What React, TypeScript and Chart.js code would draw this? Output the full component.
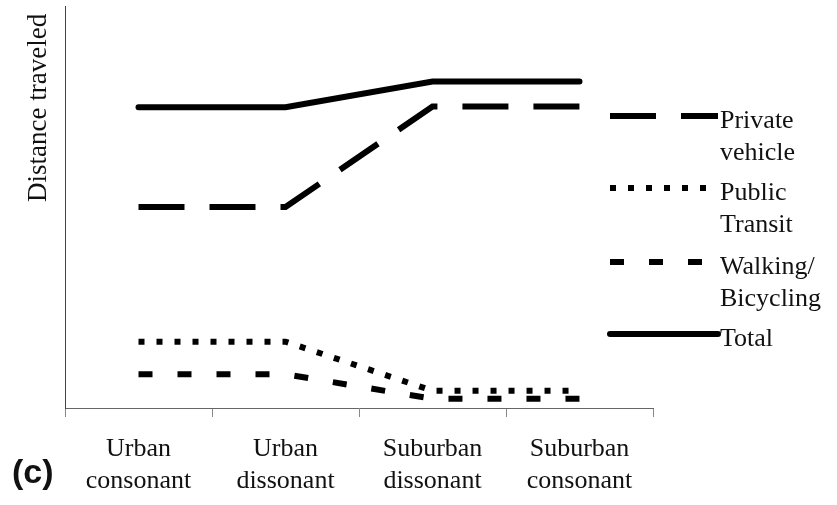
import React, { useEffect, useRef } from 'react';
import { Chart, registerables } from 'chart.js';

Chart.register(...registerables);

// ---- data ----
const categories: string[][] = [
  ['Urban', 'consonant'],
  ['Urban', 'dissonant'],
  ['Suburban', 'dissonant'],
  ['Suburban', 'consonant'],
];
const privateVehicle = [50, 50, 75, 75];
const publicTransit = [16.5, 16.5, 4.3, 4.3];
const walkingBicycling = [8.4, 8.4, 2.3, 2.3];
const total = [74.8, 74.8, 81.2, 81.2];
const seriesLabels: string[][] = [
  ['Private', 'vehicle'],
  ['Public', 'Transit'],
  ['Walking/', 'Bicycling'],
  ['Total'],
];
const yAxisTitle = 'Distance traveled';
const panelLabel = '(c)';

const SERIF = "'Liberation Serif', 'Times New Roman', serif";
const TEXT = '#111';

const overlayPlugin = {
  id: 'overlay',
  afterDraw(chart: any) {
    const ctx = chart.ctx as CanvasRenderingContext2D;
    const area = chart.chartArea;
    ctx.save();
    // y axis title (rotated, aligned to top)
    ctx.fillStyle = TEXT;
    ctx.font = `27px ${SERIF}`;
    ctx.textAlign = 'left';
    ctx.textBaseline = 'alphabetic';
    ctx.translate(area.left - 19, 202);
    ctx.rotate(-Math.PI / 2);
    ctx.fillText(yAxisTitle, 0, 0);
    ctx.restore();

    // custom legend
    const rowY = [116, 188, 262, 334];
    const x0 = area.right - 43;
    const x1 = area.right + 65;
    chart.data.datasets.forEach((ds: any, i: number) => {
      const y = rowY[i];
      ctx.save();
      ctx.strokeStyle = ds.borderColor;
      ctx.lineWidth = ds.borderWidth;
      ctx.lineCap = ds.borderCapStyle || 'butt';
      ctx.setLineDash(ds.borderDash || []);
      ctx.beginPath();
      ctx.moveTo(x0, y);
      ctx.lineTo(x1, y);
      ctx.stroke();
      ctx.restore();
      ctx.save();
      ctx.fillStyle = TEXT;
      ctx.font = `26px ${SERIF}`;
      ctx.textAlign = 'left';
      ctx.textBaseline = 'alphabetic';
      seriesLabels[i].forEach((t, j) => {
        ctx.fillText(t, x1 + 2, y + 12 + j * 32);
      });
      ctx.restore();
    });

    // panel label
    ctx.save();
    ctx.fillStyle = TEXT;
    ctx.font = "bold 34px 'Liberation Sans', Arial, sans-serif";
    ctx.textAlign = 'left';
    ctx.textBaseline = 'alphabetic';
    ctx.fillText(panelLabel, 12, 483);
    ctx.restore();
  },
};

export default function App() {
  const canvasRef = useRef<HTMLCanvasElement | null>(null);

  useEffect(() => {
    if (!canvasRef.current) return;
    const chart = new Chart(canvasRef.current, {
      type: 'line',
      data: {
        labels: categories,
        datasets: [
          {
            label: 'Private vehicle',
            data: privateVehicle,
            borderColor: '#000',
            borderWidth: 6,
            borderDash: [46, 25],
            borderCapStyle: 'butt',
            pointRadius: 0,
            tension: 0,
          },
          {
            label: 'Public Transit',
            data: publicTransit,
            borderColor: '#000',
            borderWidth: 6,
            borderDash: [6, 12],
            borderCapStyle: 'butt',
            pointRadius: 0,
            tension: 0,
          },
          {
            label: 'Walking/Bicycling',
            data: walkingBicycling,
            borderColor: '#000',
            borderWidth: 6,
            borderDash: [14, 25],
            borderCapStyle: 'butt',
            pointRadius: 0,
            tension: 0,
          },
          {
            label: 'Total',
            data: total,
            borderColor: '#000',
            borderWidth: 6,
            borderCapStyle: 'round',
            pointRadius: 0,
            tension: 0,
          },
        ],
      },
      options: {
        responsive: false,
        devicePixelRatio: 1,
        animation: false,
        layout: { padding: { top: 6, right: 184, left: 0, bottom: 0 } },
        plugins: { legend: { display: false }, tooltip: { enabled: false } },
        scales: {
          x: {
            type: 'category',
            offset: true,
            grid: {
              display: true,
              drawOnChartArea: false,
              drawTicks: true,
              tickLength: 9,
              offset: true,
              color: '#888',
            },
            border: { display: true, color: '#666', width: 1 },
            ticks: {
              color: TEXT,
              padding: 16,
              maxRotation: 0,
              autoSkip: false,
              font: { family: SERIF, size: 26, lineHeight: 1.23 },
            },
            afterFit(scale: any) {
              scale.height = 97;
            },
          },
          y: {
            min: 0,
            max: 100,
            grid: { display: false },
            border: { display: true, color: '#444', width: 1 },
            ticks: { display: false },
            afterFit(scale: any) {
              scale.width = 65;
            },
          },
        },
      },
      plugins: [overlayPlugin],
    } as any);
    return () => chart.destroy();
  }, []);

  return (
    <div style={{ position: 'absolute', left: 0, top: 0, width: 837, height: 505, background: '#fff' }}>
      <canvas ref={canvasRef} width={837} height={505} />
    </div>
  );
}
